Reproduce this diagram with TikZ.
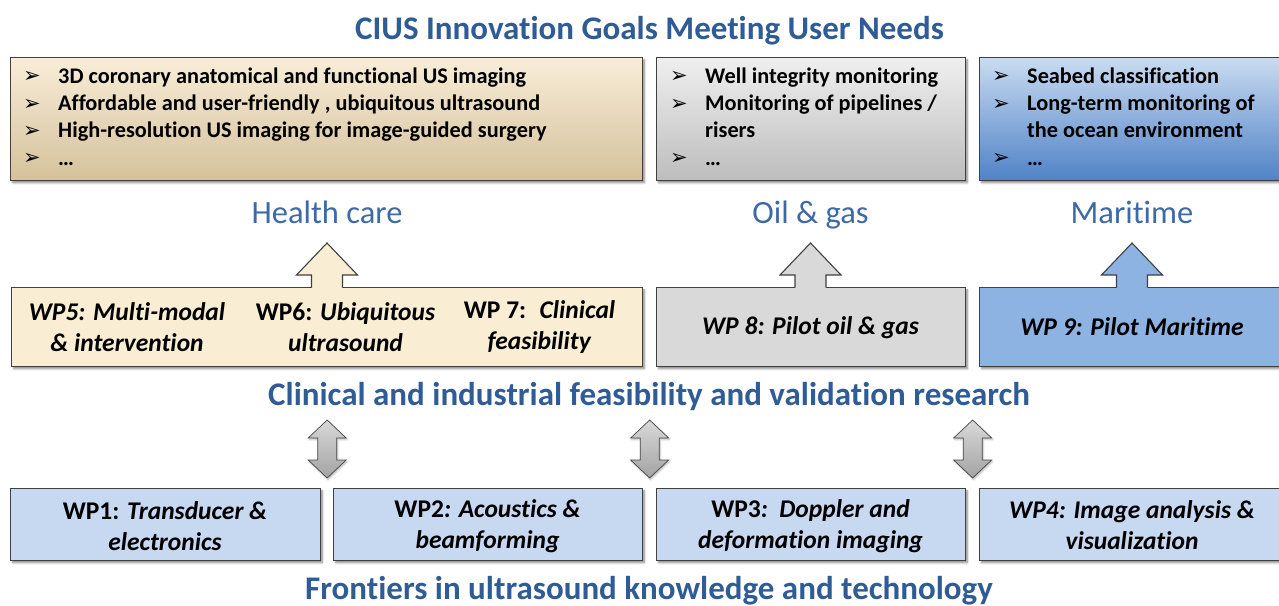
\documentclass[tikz,border=0pt]{standalone}
\usepackage{fontspec}
\setmainfont{Carlito}[Ligatures=NoCommon]
\newfontfamily\symf{DejaVu Sans}
\usetikzlibrary{shadows.blur,calc}

\definecolor{titleblue}{HTML}{2F5B96}
\definecolor{labelblue}{HTML}{3D69A6}
\definecolor{edge}{HTML}{404040}
\definecolor{hcTop}{HTML}{F8EDD8}
\definecolor{hcMid}{HTML}{F1E2C5}
\definecolor{hcBot}{HTML}{D5C19B}
\definecolor{ogTop}{HTML}{EFEFEF}
\definecolor{ogBot}{HTML}{BDBDBD}
\definecolor{mtTop}{HTML}{C9DBF1}
\definecolor{mtBot}{HTML}{4F82C6}
\definecolor{hcFlat}{HTML}{F9EDD4}
\definecolor{ogFlat}{HTML}{D9D9D9}
\definecolor{mtFlat}{HTML}{8DB3E2}
\definecolor{coreFlat}{HTML}{C6D9F1}

% bullet marks for the need lists
\newcommand\bl{\makebox[35pt][l]{\raisebox{0.5pt}{\symf\fontsize{21}{21}\selectfont ➢}}}
\newcommand\bli{\hspace*{35pt}}

\tikzset{
  box/.style={draw=edge, line width=1.3pt, rectangle, inner sep=0pt, anchor=north west,
    blur shadow={shadow xshift=1.8pt, shadow yshift=-2.2pt, shadow blur radius=1.8pt,
                 shadow blur steps=6, shadow opacity=45}},
  listtext/.style={anchor=north west, inner sep=0pt, align=left,
    font=\fontsize{22.3}{27.3}\selectfont\bfseries},
  wptext/.style={inner sep=0pt, align=center, font=\fontsize{25.5}{31}\selectfont\bfseries},
  headline/.style={anchor=base, inner sep=0pt, text=titleblue,
    font=\fontsize{33}{33}\selectfont\bfseries},
  sector/.style={anchor=base, inner sep=0pt, text=labelblue,
    font=\fontsize{32.5}{32.5}\selectfont},
  arrline/.style={draw=edge, line width=1.1pt, line join=miter},
  uparr/.pic={
    \fill[pic actions, draw=none] (-15.5,2) -- (-15.5,-12) -- (-30.5,-12) -- (0,-44)
        -- (30.5,-12) -- (15.5,-12) -- (15.5,2) -- cycle;
    \draw[arrline] (-15.5,0.7) -- (-15.5,-12) -- (-30.5,-12) -- (0,-44)
        -- (30.5,-12) -- (15.5,-12) -- (15.5,0.7);
  },
  dblarr/.pic={
    \shade[top color=gray!30, bottom color=gray!72, draw=gray!55!black, line width=0.7pt,
      blur shadow={shadow xshift=1pt, shadow yshift=-1.5pt, shadow opacity=30}]
      (0,-29) -- (19,-11) -- (9.5,-11) -- (9.5,11) -- (19,11) -- (0,29)
      -- (-19,11) -- (-9.5,11) -- (-9.5,-11) -- (-19,-11) -- cycle;
  },
}

\begin{document}
\begin{tikzpicture}[x=1pt,y=-1pt]
\useasboundingbox (0,0) rectangle (1279,605);

% ---- headings
\node[headline] (goals) at (649.5,39) {CIUS Innovation Goals Meeting User Needs};
\node[headline] (valid) at (649,405) {Clinical and industrial feasibility and validation research};
\node[headline] (front) at (649,599) {Frontiers in ultrasound knowledge and technology};

% ---- user needs per sector
\node[box, minimum width=632pt, minimum height=123pt,
      top color=hcTop, middle color=hcMid, bottom color=hcBot] (needHC) at (10,57) {};
\node[box, minimum width=309pt, minimum height=123pt,
      top color=ogTop, bottom color=ogBot] (needOG) at (656,57) {};
\node[box, minimum width=320pt, minimum height=123pt,
      top color=mtTop, bottom color=mtBot] (needMT) at (979,57) {};

\node[listtext] (listHC) at ($(needHC.north west)+(13,10.5)$)
  {\bl 3D coronary anatomical and functional US imaging\\
   \bl Affordable and user-friendly , ubiquitous ultrasound\\
   \bl High-resolution US imaging for image-guided surgery\\
   \bl …};
\node[listtext] (listOG) at ($(needOG.north west)+(14,10.5)$)
  {\bl Well integrity monitoring\\
   \bl Monitoring of pipelines /\\
   \bli risers\\
   \bl …};
\node[listtext] (listMT) at ($(needMT.north west)+(13,10.5)$)
  {\bl Seabed classification\\
   \bl Long-term monitoring of\\
   \bli the ocean environment\\
   \bl …};

% ---- sector names
\node[sector] (secHC) at (327,223) {Health care};
\node[sector] (secOG) at (810.5,223) {Oil \& gas};
\node[sector] (secMT) at (1132,223) {Maritime};

% ---- pilot work packages
\node[box, minimum width=631pt, minimum height=79pt, fill=hcFlat] (pilotHC) at (11,287) {};
\node[box, minimum width=309pt, minimum height=79pt, fill=ogFlat] (pilotOG) at (656,287) {};
\node[box, minimum width=320pt, minimum height=79pt, fill=mtFlat] (pilotMT) at (979,287) {};

\node[wptext] (wp5) at (127,327.5) {\textit{WP5: Multi-modal}\\\textit{\& intervention}};
\node[wptext] (wp6) at (345.5,327.5) {WP6: \textit{Ubiquitous}\\\textit{ultrasound}};
\node[wptext] (wp7) at (539.5,327.5) {WP 7:\ \textit{ Clinical}\\\textit{feasibility}};
\node[wptext] (wp8) at (810.5,328) {\textit{WP 8: Pilot oil \& gas}};
\node[wptext] (wp9) at (1132,327) {\textit{WP 9: Pilot Maritime}};

% ---- upward block arrows from pilots to sectors
\pic[fill=hcFlat] at (pilotHC.north -| secHC.base) {uparr};
\pic[fill=ogFlat] at (pilotOG.north -| secOG.base) {uparr};
\pic[fill=mtFlat] at (pilotMT.north -| secMT.base) {uparr};

% ---- core technology work packages
\node[box, minimum width=310pt, minimum height=72pt, fill=coreFlat] (wp1box) at (10,488) {};
\node[box, minimum width=309pt, minimum height=72pt, fill=coreFlat] (wp2box) at (333,488) {};
\node[box, minimum width=309pt, minimum height=72pt, fill=coreFlat] (wp3box) at (656,488) {};
\node[box, minimum width=320pt, minimum height=72pt, fill=coreFlat] (wp4box) at (979,488) {};

\node[wptext] (wp1) at (165,526) {WP1: \textit{Transducer \&}\\\textit{electronics}};
\node[wptext] (wp2) at (487.5,526) {WP2\textit{: Acoustics \&}\\\textit{beamforming}};
\node[wptext] (wp3) at (810.5,526) {WP3\textit{:\ \ Doppler and}\\\textit{deformation imaging}};
\node[wptext] (wp4) at (1132,525) {\textit{WP4: Image analysis \&}\\\textit{visualization}};

% ---- two-way arrows between core and pilot layers
\coordinate (gapA) at ($(wp1box.north east)!0.5!(wp2box.north west)+(0,-39)$);
\coordinate (gapB) at ($(wp2box.north east)!0.5!(wp3box.north west)+(0,-39)$);
\coordinate (gapC) at ($(wp3box.north east)!0.5!(wp4box.north west)+(0,-39)$);
\pic at (gapA) {dblarr};
\pic at (gapB) {dblarr};
\pic at (gapC) {dblarr};
\end{tikzpicture}
\end{document}
